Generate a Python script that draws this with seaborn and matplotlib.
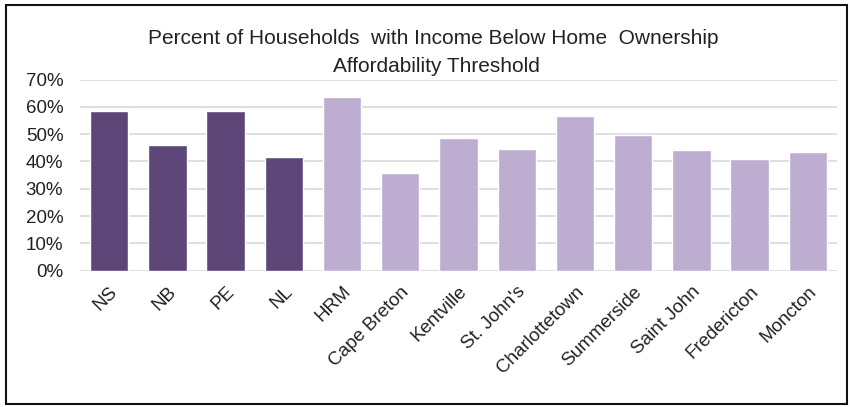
import matplotlib
matplotlib.use('Agg')
import matplotlib.pyplot as plt
import seaborn as sns
import pandas as pd
from matplotlib.patches import Rectangle
from matplotlib.ticker import PercentFormatter, MultipleLocator

categories = ["NS", "NB", "PE", "NL", "HRM", "Cape Breton", "Kentville", "St. John's",
              "Charlottetown", "Summerside", "Saint John", "Fredericton", "Moncton"]
values = [0.585, 0.46, 0.585, 0.415, 0.637, 0.356, 0.484, 0.446, 0.567, 0.497, 0.441, 0.409, 0.433]
groups = ["Province"] * 4 + ["City"] * 9
palette = {"Province": "#5E4678", "City": "#BDADD0"}
title_lines = ["Percent of Households  with Income Below Home  Ownership",
               "Affordability Threshold"]

sns.set_style("white")
FONT = ['Liberation Sans Narrow', 'Liberation Sans', 'DejaVu Sans']
plt.rcParams['font.family'] = FONT

df = pd.DataFrame({"cat": categories, "val": values, "grp": groups})

fig = plt.figure(figsize=(8.5, 4.07), dpi=100)
ax = fig.add_axes([80 / 850, 1 - 270.7 / 407, (837 - 80) / 850, (270.7 - 79.5) / 407])

sns.barplot(data=df, x="cat", y="val", hue="grp", palette=palette, dodge=False,
            width=0.66, legend=False, ax=ax, saturation=1, zorder=3)

ax.set_ylim(0, 0.7)
ax.yaxis.set_major_locator(MultipleLocator(0.1))
ax.yaxis.set_major_formatter(PercentFormatter(1.0, decimals=0))
ax.grid(axis='y', color='#D9D9D9', linewidth=1.2, zorder=0)
ax.set_axisbelow(True)
for s in ax.spines.values():
    s.set_visible(False)
ax.set_xlabel("")
ax.set_ylabel("")
ax.tick_params(axis='y', length=0, labelsize=13.5, colors='#222222', pad=12)
ax.tick_params(axis='x', length=0, labelsize=13.5, colors='#222222', pad=9)
plt.setp(ax.get_xticklabels(), rotation=45, ha='right', rotation_mode='anchor')
ax.set_xlim(-0.5, len(categories) - 0.5)

fig.text(433 / 850, 1 - 38 / 407, title_lines[0], ha='center', va='center', fontsize=15, color='#222222')
fig.text(436 / 850, 1 - 66 / 407, title_lines[1], ha='center', va='center', fontsize=15, color='#222222')

fig.add_artist(Rectangle((6 / 850, 1 - 404 / 407), (847 - 6) / 850, (404 - 5) / 407,
                         transform=fig.transFigure, fill=False, edgecolor='#111111', linewidth=1.5))

fig.savefig("out.png", dpi=100)
